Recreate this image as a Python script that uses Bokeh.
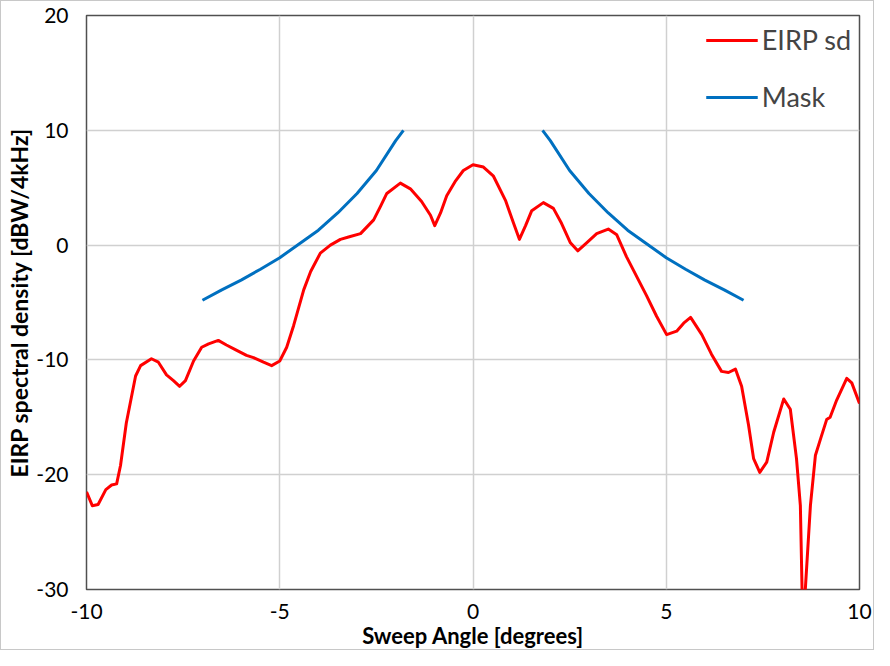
from bokeh.plotting import figure
from bokeh.models import Range1d, FixedTicker, Legend, LegendItem, CustomJSTickFormatter
from bokeh.embed import file_html
from bokeh.resources import INLINE

# EIRP spectral density
eirp_x = [-10.0, -9.85, -9.7, -9.5, -9.35, -9.22, -9.12, -8.97, -8.73, -8.6, -8.32, -8.14,
          -7.93, -7.75, -7.59, -7.44, -7.23, -7.02, -6.84, -6.59, -6.38, -6.15, -5.86, -5.68,
          -5.42, -5.21, -5.0, -4.82, -4.64, -4.38, -4.2, -3.95, -3.69, -3.43, -3.22, -2.91,
          -2.57, -2.39, -2.23, -1.88, -1.62, -1.33, -1.1, -0.99, -0.84, -0.68, -0.45, -0.25,
          0.0, 0.27, 0.53, 0.84, 1.05, 1.2, 1.36, 1.52, 1.82, 2.08, 2.29, 2.52, 2.71, 2.94,
          3.2, 3.5, 3.72, 3.97, 4.23, 4.49, 4.75, 5.01, 5.27, 5.45, 5.63, 5.92, 6.17, 6.43,
          6.61, 6.79, 6.95, 7.13, 7.26, 7.42, 7.6, 7.78, 8.04, 8.21, 8.37, 8.47, 8.52, 8.58,
          8.73, 8.86, 8.99, 9.15, 9.24, 9.41, 9.67, 9.8, 10.0]
eirp_y = [-21.5, -22.7, -22.6, -21.3, -20.9, -20.8, -19.2, -15.5, -11.4, -10.5, -9.9, -10.2,
          -11.3, -11.8, -12.3, -11.8, -10.1, -8.9, -8.6, -8.3, -8.7, -9.1, -9.6, -9.8,
          -10.2, -10.5, -10.1, -8.9, -7.0, -3.9, -2.3, -0.7, 0.0, 0.5, 0.7, 1.0,
          2.2, 3.4, 4.5, 5.4, 4.9, 3.8, 2.6, 1.7, 2.8, 4.3, 5.6, 6.5,
          7.0, 6.8, 6.0, 3.9, 1.9, 0.5, 1.7, 3.0, 3.7, 3.2, 1.9, 0.2, -0.5, 0.2,
          1.0, 1.4, 0.9, -1.0, -2.7, -4.4, -6.2, -7.8, -7.5, -6.8, -6.3, -7.8, -9.5, -11.0,
          -11.1, -10.8, -12.3, -15.7, -18.6, -19.8, -18.9, -16.3, -13.4, -14.3, -18.6, -22.7, -31.0, -31.0,
          -22.7, -18.3, -16.9, -15.2, -15.0, -13.5, -11.6, -12.0, -13.8]

# Mask (two branches)
mask_left_x = [-7.0, -6.5, -6.0, -5.5, -5.0, -4.5, -4.0, -3.5, -3.0, -2.5, -2.0, -1.8]
mask_left_y = [-4.8, -3.9, -3.05, -2.1, -1.1, 0.1, 1.3, 2.8, 4.5, 6.5, 9.1, 10.0]
mask_right_x = [1.8, 2.0, 2.5, 3.0, 3.5, 4.0, 4.5, 5.0, 5.5, 6.0, 6.5, 7.0]
mask_right_y = [10.0, 9.1, 6.5, 4.5, 2.8, 1.3, 0.1, -1.1, -2.1, -3.05, -3.9, -4.8]

x_ticks = [-10, -5, 0, 5, 10]
y_ticks = [-30, -20, -10, 0, 10, 20]

FONT = "Lato"

p = figure(width=874, height=650, output_backend="svg", toolbar_location=None,
           x_range=Range1d(-10, 10), y_range=Range1d(-30, 20),
           min_border_left=85, min_border_top=14, min_border_right=16, min_border_bottom=60)

p.styles = {"border": "1px solid #c8c8c8"}

red = p.line(eirp_x, eirp_y, line_color="#ff0000", line_width=3, line_join="round")
blue_l = p.line(mask_left_x, mask_left_y, line_color="#0070c0", line_width=3, line_join="round")
blue_r = p.line(mask_right_x, mask_right_y, line_color="#0070c0", line_width=3, line_join="round")

fmt = "return String(tick);"
p.xaxis.ticker = FixedTicker(ticks=x_ticks)
p.yaxis.ticker = FixedTicker(ticks=y_ticks)
for ax in (p.xaxis[0], p.yaxis[0]):
    ax.formatter = CustomJSTickFormatter(code=fmt)
    ax.axis_line_color = None
    ax.major_tick_line_color = None
    ax.minor_tick_line_color = None
    ax.major_tick_out = 0
    ax.major_tick_in = 0
    ax.major_label_text_font = FONT
    ax.major_label_text_font_size = "21px"
    ax.major_label_text_color = "#000000"
    ax.axis_label_text_font = FONT
    ax.axis_label_text_font_size = "22px"
    ax.axis_label_text_font_style = "bold"
    ax.axis_label_text_color = "#000000"

p.xaxis.axis_label = "Sweep Angle [degrees]"
p.yaxis.axis_label = "EIRP spectral density [dBW/4kHz]"
p.yaxis.axis_label_text_font_size = "23px"
p.xaxis.major_label_standoff = 14
p.xaxis.axis_label_standoff = 0
p.yaxis.major_label_standoff = 18
p.yaxis.axis_label_standoff = 0

p.xgrid.grid_line_color = "#d0d0d0"
p.ygrid.grid_line_color = "#d0d0d0"
p.xgrid.grid_line_width = 1.5
p.ygrid.grid_line_width = 1.5

p.outline_line_color = "#505050"
p.outline_line_width = 1.5

legend = Legend(items=[LegendItem(label="EIRP sd", renderers=[red]),
                       LegendItem(label="Mask", renderers=[blue_l])],
                location="top_right")
legend.border_line_color = None
legend.background_fill_alpha = 0.0
legend.label_text_font = FONT
legend.label_text_font_size = "27px"
legend.glyph_width = 52
legend.glyph_height = 28
legend.label_height = 28
legend.label_standoff = 4
legend.spacing = 24
legend.margin = 8
legend.padding = 4
p.add_layout(legend)

open("out.html", "w").write(file_html(p, INLINE))
